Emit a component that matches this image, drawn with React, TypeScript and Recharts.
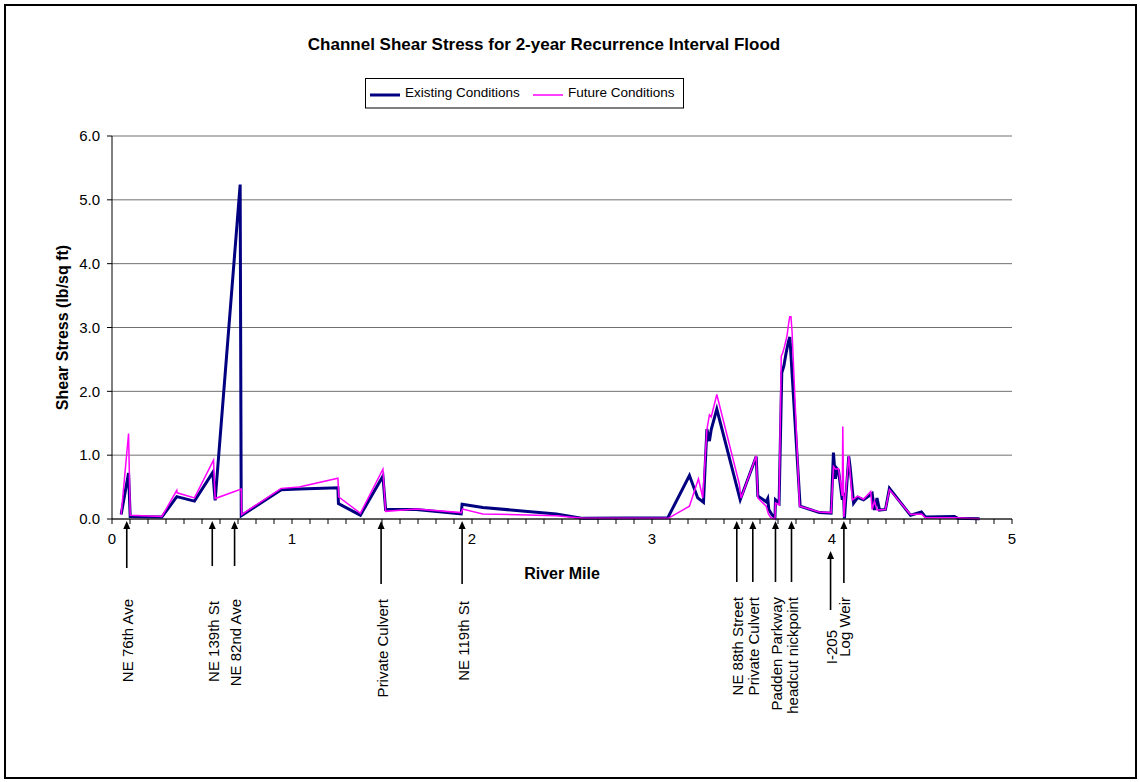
import React from 'react';
import { LineChart, Line, XAxis, YAxis, CartesianGrid, ReferenceLine } from 'recharts';

const existingMiles = [0.051, 0.092, 0.101, 0.277, 0.36, 0.458, 0.56, 0.573, 0.712, 0.718, 0.94, 1.04, 1.255, 1.258, 1.38, 1.505, 1.52, 1.69, 1.94, 1.945, 2.06, 2.468, 2.616, 3.088, 3.208, 3.254, 3.286, 3.305, 3.319, 3.329, 3.36, 3.49, 3.579, 3.588, 3.634, 3.643, 3.649, 3.668, 3.683, 3.686, 3.706, 3.721, 3.732, 3.745, 3.758, 3.766, 3.823, 3.93, 3.995, 4.008, 4.019, 4.027, 4.036, 4.057, 4.064, 4.069, 4.093, 4.1, 4.12, 4.143, 4.175, 4.204, 4.223, 4.236, 4.25, 4.264, 4.297, 4.319, 4.436, 4.497, 4.52, 4.68, 4.699, 4.82];
const existingShear = [0.07, 0.72, 0.04, 0.03, 0.35, 0.28, 0.73, 0.29, 5.24, 0.05, 0.46, 0.47, 0.49, 0.24, 0.06, 0.67, 0.15, 0.15, 0.08, 0.23, 0.18, 0.08, 0.01, 0.02, 0.68, 0.33, 0.26, 1.41, 1.22, 1.4, 1.72, 0.3, 0.98, 0.36, 0.27, 0.32, 0.15, 0.06, 0.02, 0.3, 0.25, 2.29, 2.39, 2.6, 2.78, 2.85, 0.2, 0.1, 0.09, 1.04, 0.63, 0.79, 0.76, 0.3, 0.41, 0.01, 0.98, 0.83, 0.25, 0.34, 0.3, 0.36, 0.4, 0.14, 0.33, 0.14, 0.15, 0.48, 0.06, 0.11, 0.03, 0.04, 0.01, 0.005];

const futureMiles = [0.051, 0.092, 0.101, 0.277, 0.36, 0.362, 0.458, 0.564, 0.573, 0.718, 0.72, 0.94, 1.04, 1.255, 1.26, 1.38, 1.505, 1.52, 1.69, 1.94, 1.948, 2.06, 2.468, 2.616, 3.09, 3.208, 3.258, 3.282, 3.305, 3.319, 3.329, 3.36, 3.485, 3.495, 3.579, 3.588, 3.634, 3.647, 3.66, 3.683, 3.686, 3.706, 3.718, 3.726, 3.736, 3.75, 3.758, 3.765, 3.772, 3.778, 3.82, 3.93, 3.995, 4.008, 4.019, 4.036, 4.057, 4.06, 4.066, 4.093, 4.113, 4.143, 4.175, 4.215, 4.223, 4.236, 4.25, 4.297, 4.319, 4.436, 4.497, 4.52, 4.68, 4.82];
const futureShear = [0.07, 1.34, 0.06, 0.04, 0.45, 0.41, 0.33, 0.92, 0.32, 0.47, 0.07, 0.48, 0.5, 0.64, 0.345, 0.09, 0.78, 0.12, 0.155, 0.1, 0.155, 0.08, 0.05, 0.01, 0.01, 0.2, 0.63, 0.33, 1.4, 1.63, 1.6, 1.95, 0.55, 0.33, 0.99, 0.33, 0.2, 0.08, 0.02, 0.0, 0.25, 0.22, 2.55, 2.6, 2.7, 2.87, 3.04, 3.17, 3.17, 2.94, 0.2, 0.11, 0.1, 0.82, 0.78, 0.79, 0.36, 1.45, 0.03, 0.99, 0.3, 0.36, 0.31, 0.43, 0.15, 0.28, 0.14, 0.15, 0.46, 0.07, 0.08, 0.02, 0.02, 0.005];

const xTicks = [0, 0.1, 0.2, 0.3, 0.4, 0.5, 0.6, 0.7, 0.8, 0.9, 1, 1.1, 1.2, 1.3, 1.4, 1.5, 1.6, 1.7, 1.8, 1.9, 2, 2.1, 2.2, 2.3, 2.4, 2.5, 2.6, 2.7, 2.8, 2.9, 3, 3.1, 3.2, 3.3, 3.4, 3.5, 3.6, 3.7, 3.8, 3.9, 4, 4.1, 4.2, 4.3, 4.4, 4.5, 4.6, 4.7, 4.8, 4.9, 5];
const yTicks = [0, 1, 2, 3, 4, 5, 6];

const landmarkNames = ['NE 76th Ave', 'NE 139th St', 'NE 82nd Ave', 'Private Culvert', 'NE 119th St', 'NE 88th Street', 'Private Culvert', 'Padden Parkway', 'headcut nickpoint', 'I-205', 'Log Weir'];
const landmarkMiles = [0.082, 0.557, 0.681, 1.495, 1.945, 3.471, 3.56, 3.686, 3.775, 3.992, 4.066];

// layout (pixel offsets below the plot's bottom edge) for each landmark arrow / label
const landmarkLayout = [
  { arrowStart: 2, arrowEnd: 49, textTop: 80 },
  { arrowStart: 2, arrowEnd: 47, textTop: 82 },
  { arrowStart: 2, arrowEnd: 47, textTop: 80 },
  { arrowStart: 2, arrowEnd: 65, textTop: 80 },
  { arrowStart: 2, arrowEnd: 65, textTop: 82 },
  { arrowStart: 2, arrowEnd: 63, textTop: 78 },
  { arrowStart: 2, arrowEnd: 63, textTop: 78 },
  { arrowStart: 2, arrowEnd: 63, textTop: 78 },
  { arrowStart: 2, arrowEnd: 63, textTop: 78 },
  { arrowStart: 32, arrowEnd: 91, textTop: 111 },
  { arrowStart: 2, arrowEnd: 64, textTop: 78 },
];

const existingData = existingMiles.map((m, i) => ({ mile: m, shear: existingShear[i] }));
const futureData = futureMiles.map((m, i) => ({ mile: m, shear: futureShear[i] }));

const FONT = '"Liberation Sans", Arial, sans-serif';

function makeLandmark(i: number) {
  return (props: any) => {
    const vb = props.viewBox || {};
    const x = vb.x;
    const base = vb.y + vb.height;
    const l = landmarkLayout[i];
    const top = base + l.arrowStart;
    return (
      <g>
        <line x1={x} y1={top + 6} x2={x} y2={base + l.arrowEnd} stroke="#000" strokeWidth={1.6} />
        <polygon points={`${x},${top} ${x - 3.5},${top + 8} ${x + 3.5},${top + 8}`} fill="#000" />
        <text
          transform={`translate(${x + 1},${base + l.textTop}) rotate(-90)`}
          textAnchor="end"
          dominantBaseline="central"
          fontSize={15}
          fontFamily={FONT}
          fill="#000"
        >
          {landmarkNames[i]}
        </text>
      </g>
    );
  };
}

const YTitle = (props: any) => {
  const vb = props.viewBox || {};
  const cx = vb.x + 50;
  const cy = vb.y + vb.height / 2;
  return (
    <text transform={`translate(${cx},${cy}) rotate(-90)`} textAnchor="middle" dominantBaseline="central" fontSize={16} fontWeight="bold" fontFamily={FONT} fill="#000">
      Shear Stress (lb/sq ft)
    </text>
  );
};

const XTitle = (props: any) => {
  const vb = props.viewBox || {};
  const cx = vb.x + vb.width / 2;
  const y = vb.y + 60;
  return (
    <text x={cx} y={y} textAnchor="middle" fontSize={16} fontWeight="bold" fontFamily={FONT} fill="#000">
      River Mile
    </text>
  );
};

export default function App() {
  return (
    <div style={{ position: 'absolute', left: 0, top: 0, width: 1140, height: 782, background: '#fff', fontFamily: FONT }}>
      <LineChart
        width={1140}
        height={782}
        margin={{ top: 136, right: 128, bottom: 193, left: 12 }}
      >
        <CartesianGrid vertical={false} stroke="#707070" strokeWidth={1} />
        <XAxis
          dataKey="mile"
          type="number"
          domain={[0, 5]}
          ticks={xTicks}
          interval={0}
          allowDataOverflow
          height={70}
          tickSize={5}
          tickMargin={9}
          axisLine={{ stroke: '#000' }}
          tickLine={{ stroke: '#000' }}
          tick={{ fill: '#000', fontSize: 15, fontFamily: FONT }}
          tickFormatter={(v: number) => (Number.isInteger(v) ? String(v) : '')}
          label={<XTitle />}
        />
        <YAxis
          type="number"
          domain={[0, 6]}
          ticks={yTicks}
          interval={0}
          width={100}
          tickSize={5}
          tickMargin={7}
          axisLine={{ stroke: '#000' }}
          tickLine={{ stroke: '#000' }}
          tick={{ fill: '#000', fontSize: 15, fontFamily: FONT }}
          tickFormatter={(v: number) => v.toFixed(1)}
          label={<YTitle />}
        />
        {landmarkMiles.map((m, i) => (
          <ReferenceLine key={i} x={m} stroke="none" label={makeLandmark(i)} />
        ))}
        <Line
          data={existingData}
          dataKey="shear"
          type="linear"
          stroke="#000080"
          strokeWidth={3}
          dot={false}
          isAnimationActive={false}
          name="Existing Conditions"
        />
        <Line
          data={futureData}
          dataKey="shear"
          type="linear"
          stroke="#FF00FF"
          strokeWidth={1.5}
          dot={false}
          isAnimationActive={false}
          name="Future Conditions"
        />
      </LineChart>
      <svg width={1140} height={782} style={{ position: 'absolute', left: 0, top: 0, pointerEvents: 'none' }}>
        <rect x={5} y={5} width={1131} height={773} fill="none" stroke="#000" strokeWidth={2} />
        <text x={544} y={50} textAnchor="middle" fontSize={17} fontWeight="bold" fontFamily={FONT} fill="#000">
          Channel Shear Stress for 2-year Recurrence Interval Flood
        </text>
        <rect x={365.5} y={78.5} width={318} height={29.5} fill="#fff" stroke="#000" strokeWidth={1} />
        <line x1={370} y1={95} x2={400} y2={95} stroke="#000080" strokeWidth={3} />
        <text x={405} y={97} fontSize={13.5} fontFamily={FONT} fill="#000">Existing Conditions</text>
        <line x1={533} y1={95} x2={563} y2={95} stroke="#FF00FF" strokeWidth={1.5} />
        <text x={568} y={97} fontSize={13.5} fontFamily={FONT} fill="#000">Future Conditions</text>
      </svg>
    </div>
  );
}
